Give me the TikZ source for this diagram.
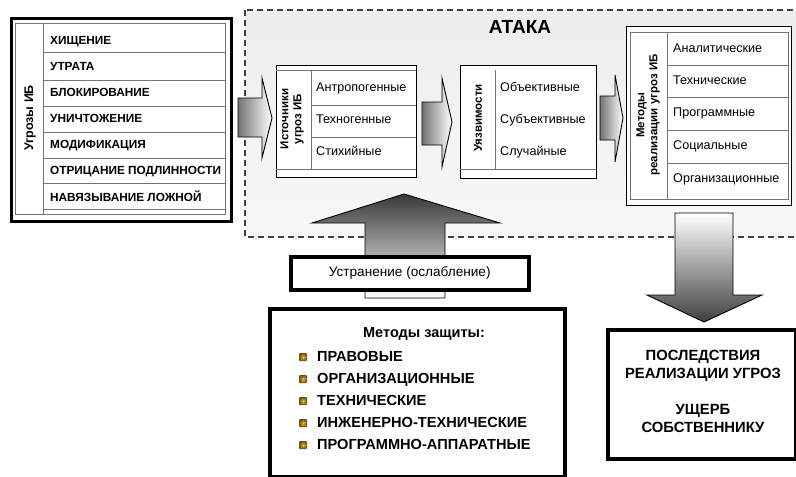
\documentclass[tikz,border=0pt]{standalone}
\usepackage{fontspec}
\setmainfont{Liberation Sans}
\usetikzlibrary{calc}
\begin{document}
\begin{tikzpicture}[x=1pt,y=-1pt,
  heavyframe/.style={draw, line width=3pt, fill=white, inner sep=0pt, anchor=north west},
  boxframe/.style={draw, line width=1.4pt, fill=white, inner sep=0pt, anchor=north west},
  thinline/.style={draw=black!55, line width=0.6pt},
  rowtext/.style={anchor=mid west, inner sep=0pt, yshift=-1pt, font=\fontsize{12.6}{14}\selectfont},
  captext/.style={anchor=mid west, inner sep=0pt, yshift=-1.5pt, font=\bfseries\fontsize{11.8}{13}\selectfont},
  sidelabel/.style={rotate=90, inner sep=0pt, align=center, font=\fontsize{12}{13.5}\selectfont},
  listtext/.style={anchor=mid west, inner sep=0pt, yshift=-2pt, font=\bfseries\fontsize{14.6}{16}\selectfont},
  bulletbox/.style={rectangle, minimum size=8pt, inner sep=0pt, rounded corners=1pt,
     inner color=yellow!60!brown, outer color=brown!55!black},
  blockarrow/.style={draw=black, line width=0.9pt, line join=miter}
]
\useasboundingbox (0,0) rectangle (796,477);

% ---------- attack region ----------
\path[draw=black!75, line width=1.3pt, dash pattern=on 6pt off 4pt,
      top color=black!7, bottom color=black!3]
  (245,10) rectangle (802,237);
\node[font=\bfseries\fontsize{19}{21}\selectfont] (ataka) at (520,27) {АТАКА};

% ---------- threats box ----------
\node[heavyframe, minimum width=220pt, minimum height=203pt] (threats) at (10,17) {};
\draw[thinline] (15,23) rectangle (225,214);
\draw[thinline] (43,23) -- (43,214);
\foreach \yy in {52,80,106,132,158,183,209}{\draw[thinline] (43,\yy) -- (225,\yy);}
\node[sidelabel, font=\bfseries\fontsize{12.5}{14}\selectfont] (thrlab) at (30,118) {Угрозы ИБ};
\node[captext] (r1) at (50,40) {ХИЩЕНИЕ};
\node[captext] (r2) at (50,66) {УТРАТА};
\node[captext] (r3) at (50,92) {БЛОКИРОВАНИЕ};
\node[captext] (r4) at (50,118) {УНИЧТОЖЕНИЕ};
\node[captext] (r5) at (50,144) {МОДИФИКАЦИЯ};
\node[captext] (r6) at (50,170) {ОТРИЦАНИЕ ПОДЛИННОСТИ};
\node[captext] (r7) at (50,197) {НАВЯЗЫВАНИЕ ЛОЖНОЙ};

% ---------- arrow 1 ----------
\path[blockarrow, left color=black!55, right color=white]
  (238,98) -- (262,98) -- (262,78) -- (272,118) -- (262,158) -- (262,137) -- (238,137) -- cycle;

% ---------- sources box ----------
\node[boxframe, minimum width=140pt, minimum height=112pt] (sources) at (276,65) {};
\draw[thinline] (276,70) -- (416,70) (276,169) -- (416,169);
\draw[thinline] (311,70) -- (311,169);
\draw[thinline] (311,105) -- (416,105) (311,137) -- (416,137);
\node[sidelabel, font=\bfseries\fontsize{11.5}{13}\selectfont] (srclab) at (292,119) {Источники\\угроз ИБ};
\node[rowtext] (s1) at (316,88) {Антропогенные};
\node[rowtext] (s2) at (316,120) {Техногенные};
\node[rowtext] (s3) at (316,152) {Стихийные};

% ---------- arrow 2 ----------
\path[blockarrow, left color=black!55, right color=white]
  (422,102) -- (442,102) -- (442,78) -- (452,122) -- (442,167) -- (442,145) -- (422,145) -- cycle;

% ---------- vulnerabilities box ----------
\node[boxframe, minimum width=136pt, minimum height=113pt] (vuln) at (460,65) {};
\draw[thinline] (495,70) -- (495,169);
\draw[thinline] (460,169) -- (596,169);
\node[sidelabel, font=\bfseries\fontsize{11.5}{13}\selectfont] (vullab) at (478,118) {Уязвимости};
\node[rowtext] (v1) at (500,88) {Объективные};
\node[rowtext] (v2) at (500,120) {Субъективные};
\node[rowtext] (v3) at (500,152) {Случайные};

% ---------- arrow 3 ----------
\path[blockarrow, left color=black!55, right color=white]
  (600,96) -- (615,96) -- (615,75) -- (623,118) -- (615,162) -- (615,140) -- (600,140) -- cycle;

% ---------- realization methods box ----------
\node[boxframe, minimum width=165pt, minimum height=179pt] (realiz) at (626,26) {};
\draw[thinline] (630,32) rectangle (788,199);
\draw[thinline] (667,32) -- (667,199);
\foreach \yy in {65,97,130,163}{\draw[thinline] (667,\yy) -- (788,\yy);}
\node[sidelabel, font=\bfseries\fontsize{11.5}{13}\selectfont] (rlzlab) at (648,115) {Методы\\реализации угроз ИБ};
\node[rowtext] (m1) at (673,49) {Аналитические};
\node[rowtext] (m2) at (673,81) {Технические};
\node[rowtext] (m3) at (673,113) {Программные};
\node[rowtext] (m4) at (673,146) {Социальные};
\node[rowtext] (m5) at (673,179) {Организационные};

% ---------- up arrow ----------
\path[blockarrow, top color=black!78, bottom color=white]
  (365,298) -- (365,223) -- (312,223) -- (404,194) -- (500,223) -- (445,223) -- (445,298) -- cycle;

% ---------- elimination box ----------
\node[draw, line width=3.5pt, fill=white, anchor=north west, minimum width=238pt,
      minimum height=33pt, inner sep=0pt] (elim) at (289,255) {};
\node[font=\fontsize{13.6}{15}\selectfont] (elimtext) at (elim.center) {Устранение (ослабление)};

% ---------- down arrow ----------
\path[blockarrow, top color=white, bottom color=black!75]
  (675,213) -- (733,213) -- (733,295) -- (762,295) -- (704,322) -- (647,295) -- (675,295) -- cycle;

% ---------- protection methods ----------
\node[heavyframe, line width=4pt, minimum width=295pt, minimum height=168pt] (protect) at (268,307) {};
\node[font=\bfseries\fontsize{14.5}{16}\selectfont] (prothead) at (424,334) {Методы защиты:};
\foreach \yy/\tx [count=\i] in {357/ПРАВОВЫЕ, 379/ОРГАНИЗАЦИОННЫЕ, 401/ТЕХНИЧЕСКИЕ,
   423/ИНЖЕНЕРНО-ТЕХНИЧЕСКИЕ, 445/ПРОГРАММНО-АППАРАТНЫЕ}{
  \node[bulletbox] (b\i) at (303,\yy) {};
  \node[listtext] (p\i) at (317,\yy) {\tx};
}

% ---------- consequences ----------
\node[heavyframe, line width=4pt, minimum width=188pt, minimum height=129pt] (conseq) at (606,328) {};
\node[align=center, font=\bfseries\fontsize{14.8}{18}\selectfont] (contxt) at (703,391)
  {ПОСЛЕДСТВИЯ\\РЕАЛИЗАЦИИ УГРОЗ\\[18pt]УЩЕРБ\\СОБСТВЕННИКУ};
\end{tikzpicture}
\end{document}
